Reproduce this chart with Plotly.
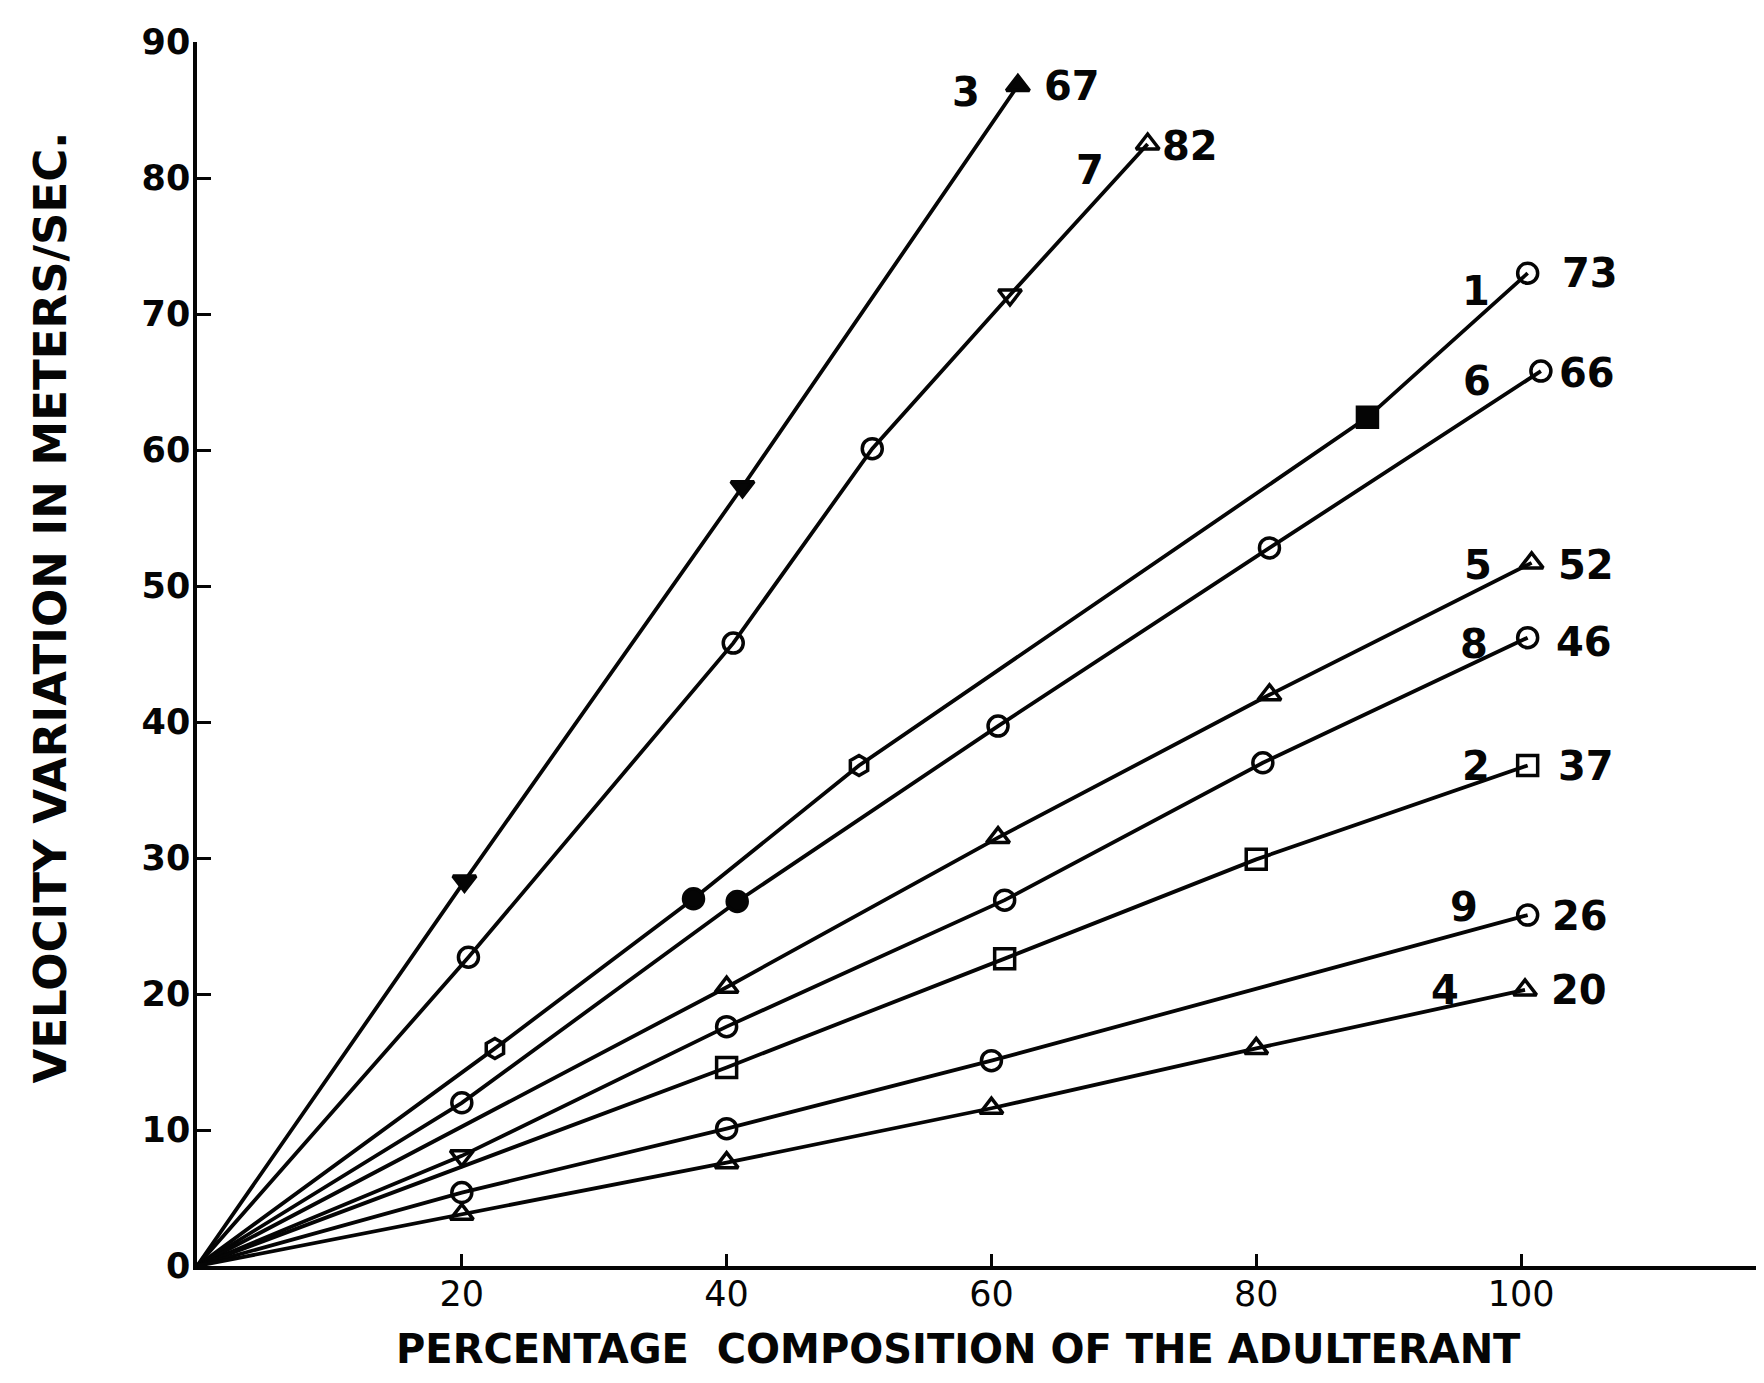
import plotly.graph_objects as go

# ---------------- data ----------------
curve_ids = ["3", "7", "1", "6", "5", "8", "2", "9", "4"]
end_values = ["67", "82", "73", "66", "52", "46", "37", "26", "20"]

x_c3 = [0, 20.2, 41.2, 62.0]
y_c3 = [0, 28.3, 57.3, 86.8]

x_c7 = [0, 20.5, 40.5, 51.0, 61.4, 71.8]
y_c7 = [0, 22.7, 45.8, 60.1, 71.4, 82.5]

x_c1 = [0, 22.5, 37.5, 50.0, 88.4, 100.5]
y_c1 = [0, 16.0, 27.0, 36.8, 62.4, 73.0]

x_c6 = [0, 20.0, 40.8, 60.5, 81.0, 101.5]
y_c6 = [0, 12.0, 26.8, 39.7, 52.8, 65.8]

x_c5 = [0, 40.0, 60.5, 81.0, 100.8]
y_c5 = [0, 20.5, 31.5, 42.0, 51.7]

x_c8 = [0, 20.0, 40.0, 61.0, 80.5, 100.5]
y_c8 = [0, 8.1, 17.6, 26.9, 37.0, 46.2]

x_c2 = [0, 40.0, 61.0, 80.0, 100.5]
y_c2 = [0, 14.6, 22.6, 29.9, 36.8]

x_c9 = [0, 20.0, 40.0, 60.0, 100.5]
y_c9 = [0, 5.4, 10.1, 15.1, 25.8]

x_c4 = [0, 20.0, 40.0, 60.0, 80.0, 100.3]
y_c4 = [0, 3.8, 7.6, 11.6, 16.0, 20.3]

x_ticks = [20, 40, 60, 80, 100]
x_tick_text = ["20", "40", "60", "80", "100"]
y_ticks = [0, 10, 20, 30, 40, 50, 60, 70, 80, 90]

x_title = "PERCENTAGE  COMPOSITION OF THE ADULTERANT"
y_title = "VELOCITY VARIATION IN METERS/SEC."

# ---------------- styles ----------------
series_x = [x_c3, x_c7, x_c1, x_c6, x_c5, x_c8, x_c2, x_c9, x_c4]
series_y = [y_c3, y_c7, y_c1, y_c6, y_c5, y_c8, y_c2, y_c9, y_c4]

symbols = [
    ["triangle-down", "triangle-down", "triangle-up"],
    ["circle-open", "circle-open", "circle-open", "triangle-down-open", "triangle-up-open"],
    ["hexagon-open", "circle", "hexagon-open", "square", "circle-open"],
    ["circle-open", "circle", "circle-open", "circle-open", "circle-open"],
    ["triangle-up-open", "triangle-up-open", "triangle-up-open", "triangle-up-open"],
    ["triangle-down-open", "circle-open", "circle-open", "circle-open", "circle-open"],
    ["square-open", "square-open", "square-open", "square-open"],
    ["circle-open", "circle-open", "circle-open", "circle-open"],
    ["triangle-up-open", "triangle-up-open", "triangle-up-open", "triangle-up-open", "triangle-up-open"],
]
# pixel offsets of the curve-number label and the end-value label from the last point
id_shift = [(-52, -6), (-58, -26), (-52, -18), (-64, -10), (-54, -2), (-54, -6), (-52, 0), (-64, 8), (-80, 0)]
val_shift = [(54, 0), (42, -2), (62, 0), (46, -2), (54, -2), (56, -4), (58, 0), (52, -1), (54, 0)]

INK = "#050505"
FONT = "DejaVu Sans"

fig = go.Figure()
for xs, ys, syms in zip(series_x, series_y, symbols):
    fig.add_trace(go.Scatter(
        x=xs, y=ys, mode="lines",
        line=dict(color=INK, width=3.8),
        hoverinfo="skip", showlegend=False,
    ))
    fig.add_trace(go.Scatter(
        x=xs[1:], y=ys[1:], mode="markers",
        marker=dict(symbol=syms, size=20, color=INK,
                    line=dict(color=INK, width=3.5)),
        showlegend=False,
    ))

annotations = []
for xs, ys, cid, val, (ix, iy), (vx, vy) in zip(series_x, series_y, curve_ids, end_values, id_shift, val_shift):
    annotations.append(dict(x=xs[-1], y=ys[-1], xref="x", yref="y", text=cid,
                            showarrow=False, xshift=ix, yshift=iy,
                            font=dict(family=FONT, size=40, color=INK, weight="bold")))
    annotations.append(dict(x=xs[-1], y=ys[-1], xref="x", yref="y", text=val,
                            showarrow=False, xshift=vx, yshift=vy,
                            font=dict(family=FONT, size=40, color=INK, weight="bold")))

# axis titles (placed as in the reference)
annotations.append(dict(x=0.486, y=-0.068, xref="paper", yref="paper", text=x_title,
                        showarrow=False, xanchor="center", yanchor="middle",
                        font=dict(family=FONT, size=40, color=INK, weight="bold")))
annotations.append(dict(x=-0.0932, y=0.538, xref="paper", yref="paper", text=y_title,
                        showarrow=False, xanchor="center", yanchor="middle", textangle=-90,
                        font=dict(family=FONT, size=45, color=INK, weight="bold")))

# the page has an 8px body margin; the figure is sized so it fits without scrolling
fig.update_layout(
    width=1756, height=1375,
    margin=dict(l=189, r=0, t=34, b=117),
    paper_bgcolor="white", plot_bgcolor="white",
    annotations=annotations,
    showlegend=False,
)
fig.update_xaxes(
    range=[0, 118.35], tickmode="array", tickvals=x_ticks, ticktext=x_tick_text,
    ticks="inside", ticklen=12, tickwidth=2.5, tickcolor=INK,
    showline=True, linewidth=3.5, linecolor=INK, showgrid=False, zeroline=False,
    tickfont=dict(family=FONT, size=35, color=INK),
    ticklabelstandoff=-6,
)
fig.update_yaxes(
    range=[0, 90], tickmode="array", tickvals=y_ticks,
    ticks="inside", ticklen=14, tickwidth=3, tickcolor=INK,
    showline=True, linewidth=3.5, linecolor=INK, showgrid=False, zeroline=False,
    tickfont=dict(family=FONT, size=35, color=INK, weight="bold"),
    ticklabelstandoff=-4,
)

fig.write_html("out.html")
